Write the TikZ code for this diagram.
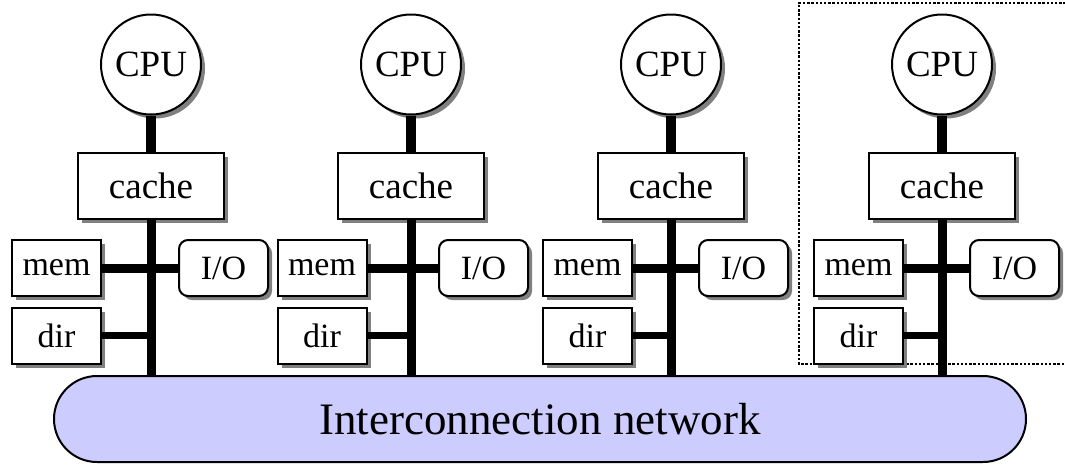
\documentclass[tikz,border=0pt]{standalone}
\usepackage{fontspec}
\setmainfont{Liberation Serif}
\usetikzlibrary{shapes.misc,shadows}
\definecolor{netblue}{HTML}{CCCCFF}
\begin{document}
\begin{tikzpicture}[x=1pt,y=-1pt,
  unit/.style={draw, line width=2pt, fill=white, inner sep=0pt,
    drop shadow={shadow xshift=4pt, shadow yshift=-4pt, fill=black!50, opacity=1}},
  cpunode/.style={unit, circle, minimum size=100pt, font=\fontsize{37}{40}\selectfont},
  cachebox/.style={unit, rectangle, minimum width=146pt, minimum height=66pt, font=\fontsize{37}{40}\selectfont},
  smallbox/.style={unit, rectangle, minimum width=89pt, minimum height=56pt, font=\fontsize{34}{36}\selectfont},
  iobox/.style={smallbox, rounded corners=9pt},
  netnode/.style={draw, line width=2pt, fill=netblue, rounded rectangle, inner sep=0pt,
    minimum width=972pt, minimum height=86pt, font=\fontsize{45}{48}\selectfont},
  cpulink/.style={line width=10pt},
  buslink/.style={line width=9pt},
  memlink/.style={line width=9pt},
  dirlink/.style={line width=7.5pt},
  nodebox/.style={line width=2.4pt, dash pattern=on 2.4pt off 1.8pt}]
\useasboundingbox (0,0) rectangle (1065,464);

% dotted outline around one node of the machine
\draw[nodebox] (1070,3) -- (799,3) -- (799,364) -- (1070,364);

\node[netnode] (net) at (540,419) {Interconnection network};

\foreach \i/\cx/\mx in {1/151/-94.5, 2/411/-89, 3/671/-83.5, 4/942/-83.5} {
  \pgfmathsetmacro{\memx}{\cx+\mx}
  \pgfmathsetmacro{\iox}{\cx+72.5}
  \node[cpunode] (cpu\i) at (\cx,64.5) {CPU};
  \node[cachebox] (cache\i) at (\cx,186) {cache};
  \node[smallbox] (mem\i) at (\memx,268) {mem};
  \node[smallbox] (dir\i) at (\memx,335.5) {dir};
  \node[iobox] (io\i) at (\iox,268) {I/O};
  \draw[cpulink] (cpu\i.south) -- (cache\i.north);
  \draw[buslink] (cache\i.south) -- (cache\i.south |- net.north);
  \draw[memlink] (mem\i.east) -- (io\i.west);
  \draw[dirlink] (dir\i.east) -- (dir\i.east -| cache\i.south);
}
\end{tikzpicture}
\end{document}
